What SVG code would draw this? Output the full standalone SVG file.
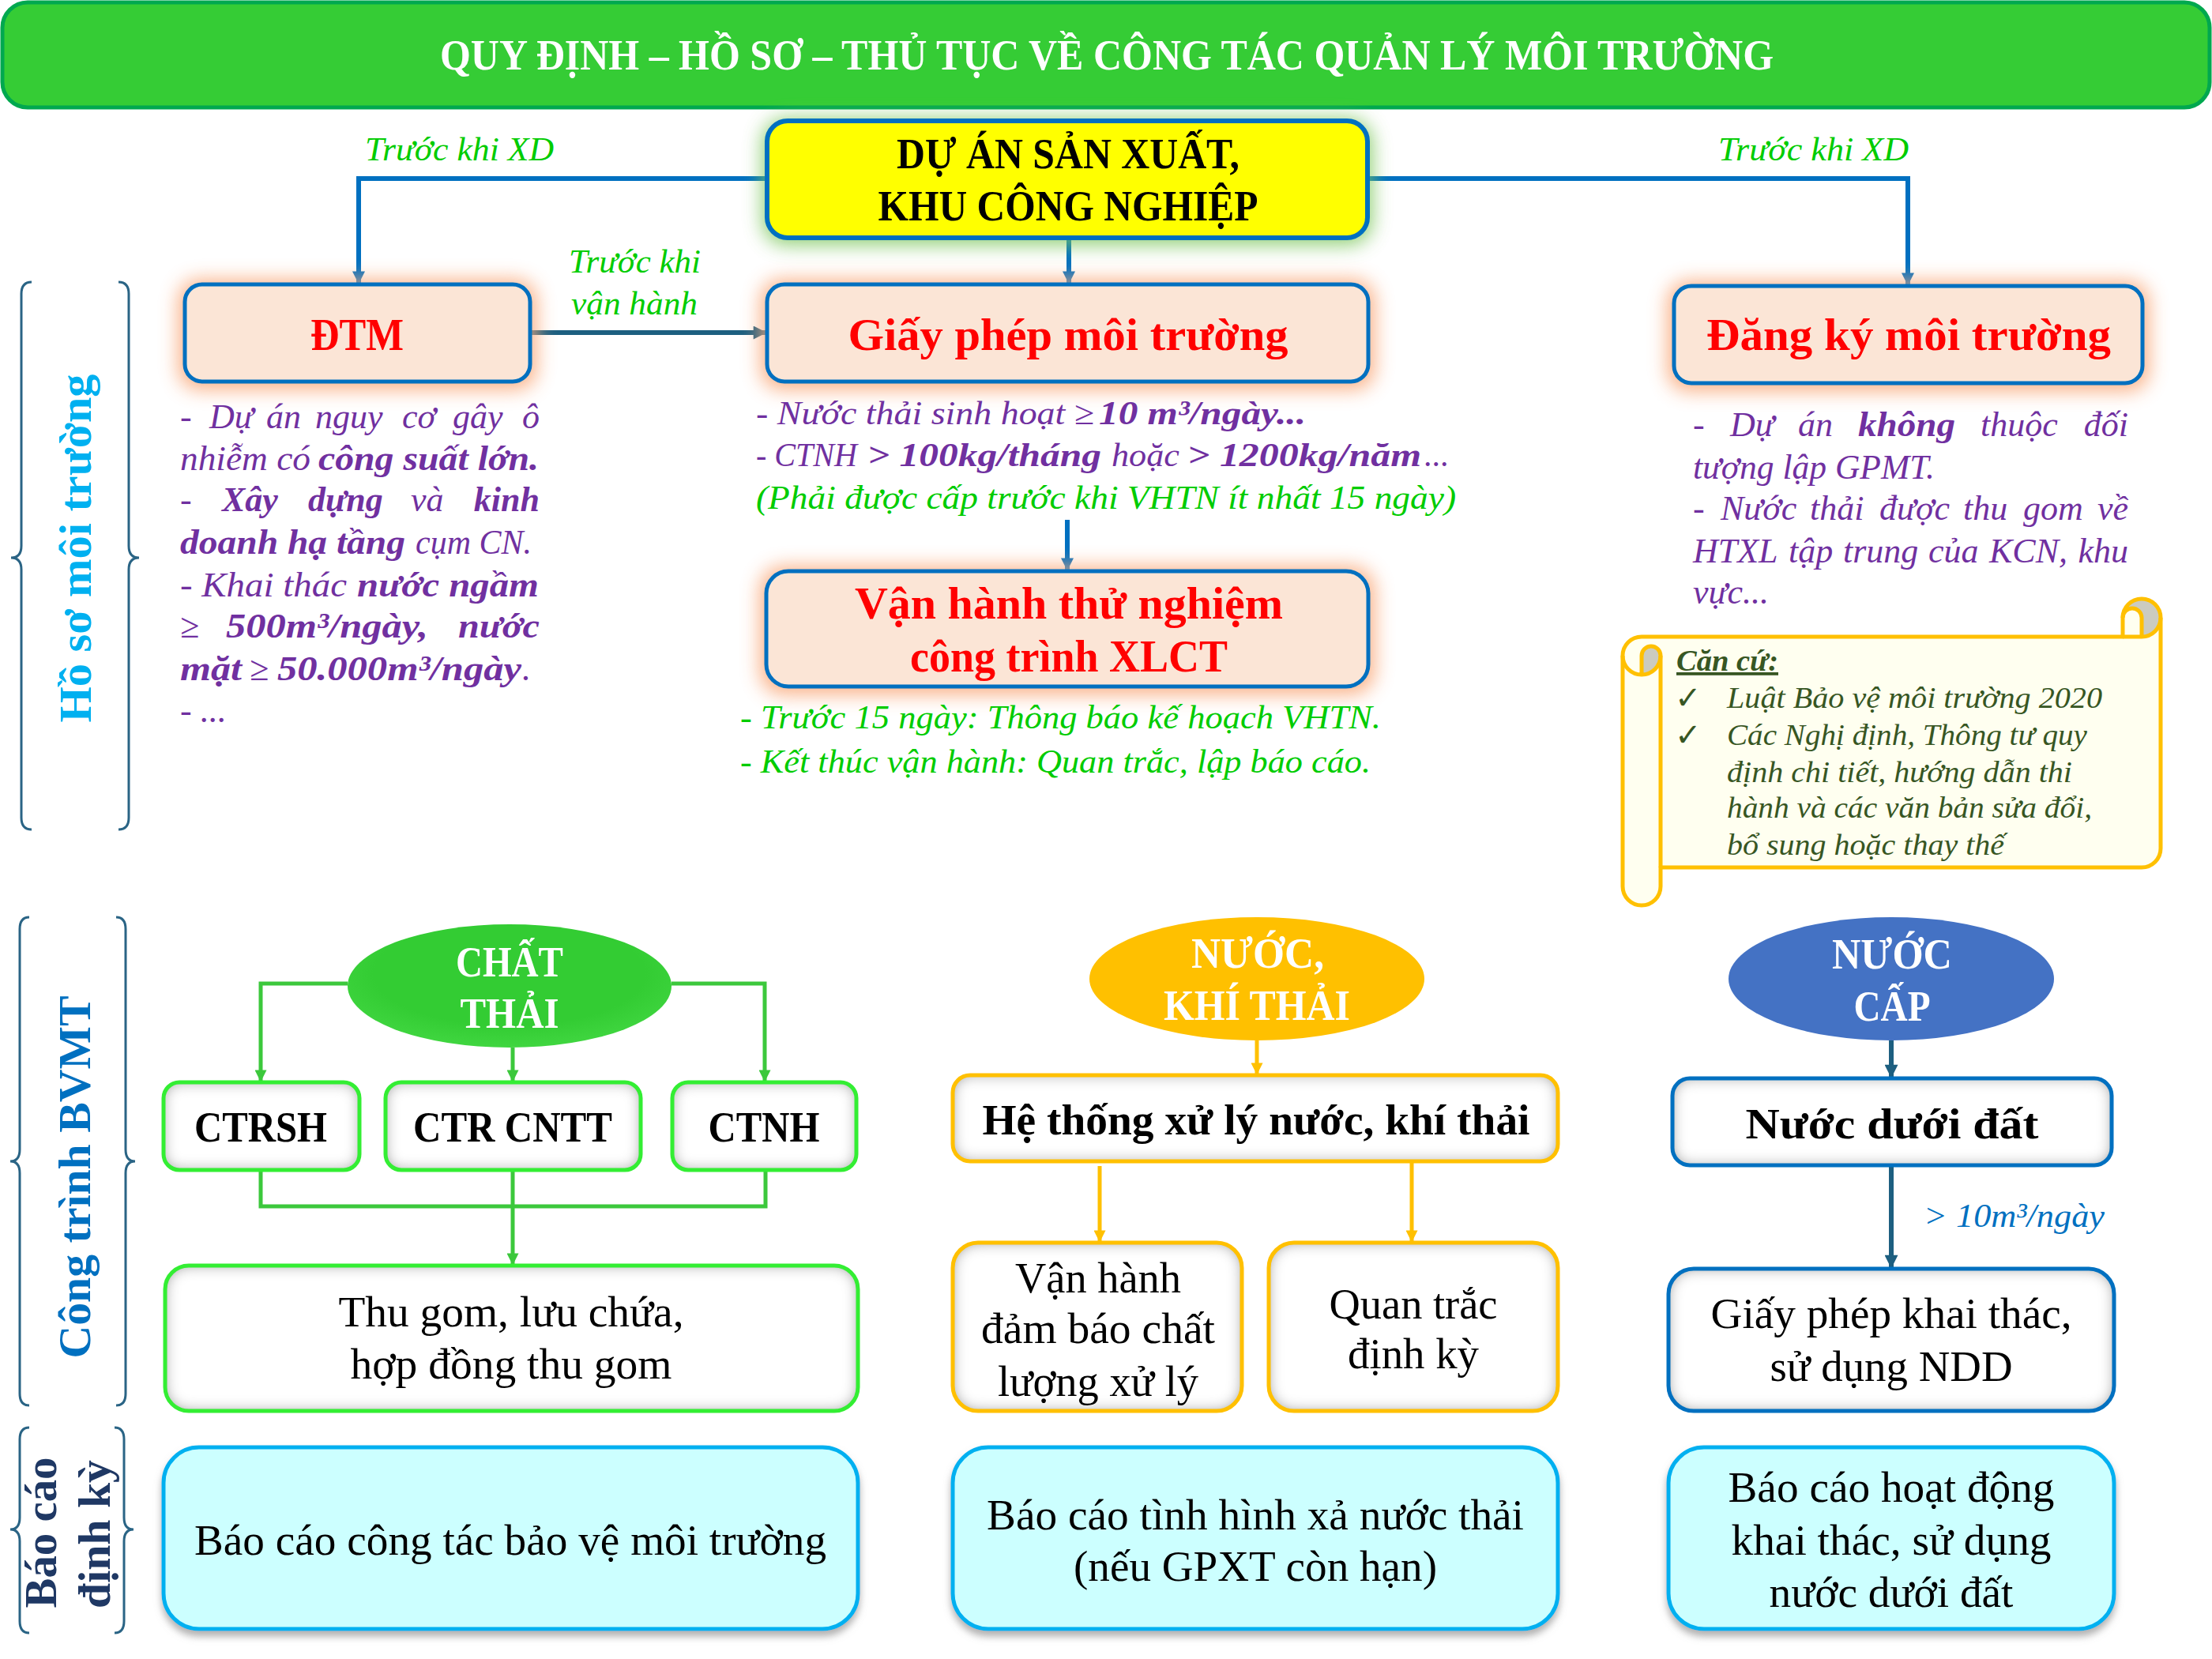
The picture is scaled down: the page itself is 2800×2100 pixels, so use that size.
<svg xmlns="http://www.w3.org/2000/svg" width="2800" height="2100" viewBox="0 0 2800 2100">
<defs>
<style>
.sf{font-family:'Liberation Serif','Times New Roman',serif}
.ttl{font-family:'Liberation Serif',serif;font-weight:bold;font-size:54px;fill:#fff}
.blk{font-family:'Liberation Serif',serif;font-weight:bold;font-size:54px;fill:#000}
.red{font-family:'Liberation Serif',serif;font-weight:bold;font-size:56px;fill:#FF0000}
.gl{font-family:'Liberation Serif',serif;font-style:italic;font-size:42px;fill:#00CC00}
.pu{font-family:'Liberation Serif',serif;font-style:italic;font-size:44px;fill:#7030A0}
.pu2{font-family:'Liberation Serif',serif;font-style:italic;font-size:42px;fill:#7030A0}
.gr2{font-family:'Liberation Serif',serif;font-style:italic;font-size:42px;fill:#00CC00}
.b{font-weight:bold}
.sc{font-family:'Liberation Serif',serif;font-style:italic;font-size:38px;fill:#375623}
.chk{font-family:'DejaVu Sans',sans-serif;font-size:40px;font-weight:bold;fill:#375623}
.el{font-family:'Liberation Serif',serif;font-weight:bold;font-size:54px;fill:#fff}
.reg{font-family:'Liberation Serif',serif;font-size:54px;fill:#000}
.rot{font-family:'Liberation Serif',serif;font-weight:bold;font-size:56px}
.brace{fill:none;stroke:#2A6485;stroke-width:3}
.peach{fill:#FBE5D6;stroke:#0070C0;stroke-width:5}
.wbox{fill:#fff}
.cyan{fill:#CCFFFF;stroke:#00B0F0;stroke-width:5}
.cb{fill:none;stroke-width:5}
.lnB{fill:none;stroke:#0070C0;stroke-width:6}
.lnT{fill:none;stroke:#1D5F80;stroke-width:6}
.lnG{fill:none;stroke:#3CC83C;stroke-width:5}
.lnO{fill:none;stroke:#FFC000;stroke-width:5}
</style>
<marker id="aB" viewBox="0 0 10 10" refX="9" refY="5" markerUnits="userSpaceOnUse" markerWidth="18" markerHeight="16" orient="auto"><path d="M0,0 L10,5 L0,10 z" fill="#0070C0"/></marker>
<marker id="aT" viewBox="0 0 10 10" refX="9" refY="5" markerUnits="userSpaceOnUse" markerWidth="18" markerHeight="17" orient="auto"><path d="M0,0 L10,5 L0,10 z" fill="#1D5F80"/></marker>
<marker id="aG" viewBox="0 0 10 10" refX="9" refY="5" markerUnits="userSpaceOnUse" markerWidth="16" markerHeight="15" orient="auto"><path d="M0,0 L10,5 L0,10 z" fill="#3CC83C"/></marker>
<marker id="aO" viewBox="0 0 10 10" refX="9" refY="5" markerUnits="userSpaceOnUse" markerWidth="16" markerHeight="15" orient="auto"><path d="M0,0 L10,5 L0,10 z" fill="#FFC000"/></marker>
<filter id="blur" x="-20%" y="-40%" width="140%" height="180%"><feGaussianBlur stdDeviation="12"/></filter>
<filter id="inset" x="-5%" y="-10%" width="110%" height="120%">
<feFlood flood-color="#808080" result="f"/>
<feComposite in="f" in2="SourceAlpha" operator="out" result="o"/>
<feGaussianBlur in="o" stdDeviation="9" result="bl"/>
<feComposite in="bl" in2="SourceAlpha" operator="in" result="s"/>
<feMerge><feMergeNode in="SourceGraphic"/><feMergeNode in="s"/></feMerge>
</filter>
<filter id="drop" x="-5%" y="-10%" width="110%" height="125%"><feDropShadow dx="0" dy="7" stdDeviation="5" flood-color="#7f7f7f" flood-opacity="0.6"/></filter>
<radialGradient id="gG" cx="50%" cy="40%" r="60%"><stop offset="0.7" stop-color="#33CC33"/><stop offset="1" stop-color="#40D640"/></radialGradient>
</defs>

<rect width="2800" height="2100" fill="#fff"/>

<g id="title">
<rect x="3" y="3" width="2794" height="133" rx="32" fill="#35CC35" stroke="#00A84F" stroke-width="5"/>
<text class="ttl" x="1401" y="88" text-anchor="middle" textLength="1688" lengthAdjust="spacingAndGlyphs">QUY ĐỊNH – HỒ SƠ – THỦ TỤC VỀ CÔNG TÁC QUẢN LÝ MÔI TRƯỜNG</text>
</g>

<g id="side-labels">
<path class="brace" d="M40 357 Q27 357 27 372 L27 691 Q27 706 14 706 Q27 706 27 721 L27 1035 Q27 1050 40 1050"/>
<path class="brace" d="M150 357 Q163 357 163 372 L163 691 Q163 706 176 706 Q163 706 163 721 L163 1035 Q163 1050 150 1050"/>
<text class="rot" fill="#00B0F0" transform="translate(115,694) rotate(-90)" text-anchor="middle" textLength="441" lengthAdjust="spacingAndGlyphs">Hồ sơ môi trường</text>
<path class="brace" d="M37 1161 Q25 1161 25 1176 L25 1455 Q25 1470 13 1470 Q25 1470 25 1485 L25 1764 Q25 1779 37 1779"/>
<path class="brace" d="M147 1161 Q159 1161 159 1176 L159 1455 Q159 1470 171 1470 Q159 1470 159 1485 L159 1764 Q159 1779 147 1779"/>
<text class="rot" fill="#0070C0" transform="translate(114,1490) rotate(-90)" text-anchor="middle" textLength="459" lengthAdjust="spacingAndGlyphs">Công trình BVMT</text>
<path class="brace" d="M37 1807 Q25 1807 25 1822 L25 1921 Q25 1936 13 1936 Q25 1936 25 1951 L25 2052 Q25 2067 37 2067"/>
<path class="brace" d="M145 1807 Q157 1807 157 1822 L157 1921 Q157 1936 169 1936 Q157 1936 157 1951 L157 2052 Q157 2067 145 2067"/>
<text class="rot" fill="#1F3864" transform="translate(71,1940) rotate(-90)" text-anchor="middle" textLength="191" lengthAdjust="spacingAndGlyphs">Báo cáo</text>
<text class="rot" fill="#1F3864" transform="translate(139,1942) rotate(-90)" text-anchor="middle" textLength="188" lengthAdjust="spacingAndGlyphs">định kỳ</text>
</g>

<g id="connectors">
<path class="lnB" d="M971 226 L454 226 L454 358" marker-end="url(#aB)"/>
<path class="lnB" d="M1731 226 L2415 226 L2415 360" marker-end="url(#aB)"/>
<path class="lnB" d="M1353 301 L1353 358" marker-end="url(#aB)"/>
<path class="lnT" d="M671 421 L969 421" marker-end="url(#aT)"/>
<path class="lnB" d="M1351 658 L1351 721" marker-end="url(#aB)"/>
<path class="lnG" d="M440 1245 L330 1245 L330 1368" marker-end="url(#aG)"/>
<path class="lnG" d="M850 1245 L968 1245 L968 1368" marker-end="url(#aG)"/>
<path class="lnG" d="M649 1326 L649 1368" marker-end="url(#aG)"/>
<path class="lnG" d="M330 1481 L330 1527 L969 1527 L969 1481"/>
<path class="lnG" d="M649 1481 L649 1600" marker-end="url(#aG)"/>
<path class="lnO" d="M1591 1317 L1591 1359" marker-end="url(#aO)"/>
<path class="lnO" d="M1392 1476 L1392 1571" marker-end="url(#aO)"/>
<path class="lnO" d="M1787 1470 L1787 1571" marker-end="url(#aO)"/>
<path class="lnT" d="M2394 1317 L2394 1363" marker-end="url(#aT)"/>
<path class="lnT" d="M2394 1475 L2394 1604" marker-end="url(#aT)"/>
<text class="gl" x="462" y="203" textLength="239" lengthAdjust="spacingAndGlyphs">Trước khi XD</text>
<text class="gl" x="2175" y="203" textLength="241" lengthAdjust="spacingAndGlyphs">Trước khi XD</text>
<text class="gl" x="720" y="345" textLength="167" lengthAdjust="spacingAndGlyphs">Trước khi</text>
<text class="gl" x="723" y="398" textLength="160" lengthAdjust="spacingAndGlyphs">vận hành</text>
<text class="sf" x="2435" y="1553" font-style="italic" font-size="42" fill="#0070C0" textLength="229" lengthAdjust="spacingAndGlyphs">&gt; 10m³/ngày</text>
</g>

<g id="du-an">
<rect x="965" y="150" width="772" height="160" rx="30" fill="#7CC65B" opacity="0.85" filter="url(#blur)"/>
<rect x="971" y="153" width="760" height="148" rx="26" fill="#FFFF00" stroke="#0070C0" stroke-width="6"/>
<text class="blk" x="1352" y="213" text-anchor="middle" font-size="56" textLength="434" lengthAdjust="spacingAndGlyphs">DỰ ÁN SẢN XUẤT,</text>
<text class="blk" x="1352" y="279" text-anchor="middle" font-size="56" textLength="481" lengthAdjust="spacingAndGlyphs">KHU CÔNG NGHIỆP</text>
</g>

<g id="dtm">
<rect x="226" y="354" width="453" height="139" rx="26" fill="#F9A97A" opacity="0.9" filter="url(#blur)"/>
<rect class="peach" x="234" y="360" width="437" height="123" rx="22"/>
<text class="red" x="452" y="443" text-anchor="middle" textLength="118" lengthAdjust="spacingAndGlyphs">ĐTM</text>
</g>

<g id="giay-phep">
<rect x="963" y="354" width="777" height="139" rx="26" fill="#F9A97A" opacity="0.9" filter="url(#blur)"/>
<rect class="peach" x="971" y="360" width="761" height="123" rx="22"/>
<text class="red" x="1352" y="443" text-anchor="middle" textLength="557" lengthAdjust="spacingAndGlyphs">Giấy phép môi trường</text>
</g>

<g id="dang-ky">
<rect x="2111" y="356" width="609" height="139" rx="26" fill="#F9A97A" opacity="0.9" filter="url(#blur)"/>
<rect class="peach" x="2119" y="362" width="593" height="123" rx="22"/>
<text class="red" x="2416" y="443" text-anchor="middle" textLength="512" lengthAdjust="spacingAndGlyphs">Đăng ký môi trường</text>
</g>

<g id="van-hanh-tn">
<rect x="962" y="717" width="778" height="162" rx="30" fill="#F9A97A" opacity="0.9" filter="url(#blur)"/>
<rect class="peach" x="970" y="723" width="762" height="146" rx="28"/>
<text class="red" x="1353" y="783" text-anchor="middle" textLength="542" lengthAdjust="spacingAndGlyphs">Vận hành thử nghiệm</text>
<text class="red" x="1353" y="850" text-anchor="middle" textLength="402" lengthAdjust="spacingAndGlyphs">công trình XLCT</text>
</g>

<g id="dtm-text">
<text class="pu" y="542"><tspan x="228">-</tspan><tspan x="265">Dự</tspan><tspan x="337">án</tspan><tspan x="399">nguy</tspan><tspan x="509">cơ</tspan><tspan x="573">gây</tspan><tspan x="683" text-anchor="end">ô</tspan></text>
<text class="pu" y="595"><tspan x="228" textLength="165" lengthAdjust="spacingAndGlyphs">nhiễm có</tspan><tspan x="403" class="b" textLength="279" lengthAdjust="spacingAndGlyphs">công suất lớn.</tspan></text>
<text class="pu" y="647"><tspan x="228">-</tspan><tspan x="281" class="b">Xây</tspan><tspan x="390" class="b">dựng</tspan><tspan x="520">và</tspan><tspan x="683" class="b" text-anchor="end">kinh</tspan></text>
<text class="pu" y="701"><tspan x="228" class="b" textLength="285" lengthAdjust="spacingAndGlyphs">doanh hạ tầng</tspan><tspan x="526" textLength="147" lengthAdjust="spacingAndGlyphs">cụm CN.</tspan></text>
<text class="pu" y="755"><tspan x="228" textLength="211" lengthAdjust="spacingAndGlyphs">- Khai thác</tspan><tspan x="452" class="b" textLength="230" lengthAdjust="spacingAndGlyphs">nước ngầm</tspan></text>
<text class="pu" y="807"><tspan x="228">≥</tspan><tspan x="286" class="b" textLength="256" lengthAdjust="spacingAndGlyphs">500m³/ngày,</tspan><tspan x="580" class="b" textLength="103" lengthAdjust="spacingAndGlyphs">nước</tspan></text>
<text class="pu" y="861"><tspan x="228" class="b" textLength="78" lengthAdjust="spacingAndGlyphs">mặt</tspan><tspan x="316">≥</tspan><tspan x="351" class="b" textLength="309" lengthAdjust="spacingAndGlyphs">50.000m³/ngày</tspan><tspan x="661">.</tspan></text>
<text class="pu" y="914" x="228">- ...</text>
</g>

<g id="gp-text">
<text class="pu2" y="537"><tspan x="957" textLength="428" lengthAdjust="spacingAndGlyphs">- Nước thải sinh hoạt ≥</tspan><tspan x="1391" class="b" textLength="262" lengthAdjust="spacingAndGlyphs">10 m³/ngày...</tspan></text>
<text class="pu2" y="590"><tspan x="957" textLength="128" lengthAdjust="spacingAndGlyphs">- CTNH</tspan><tspan x="1098" class="b" textLength="296" lengthAdjust="spacingAndGlyphs">&gt; 100kg/tháng</tspan><tspan x="1407" textLength="86" lengthAdjust="spacingAndGlyphs">hoặc</tspan><tspan x="1503" class="b" textLength="296" lengthAdjust="spacingAndGlyphs">&gt; 1200kg/năm</tspan><tspan x="1803">...</tspan></text>
<text class="gr2" x="957" y="644" textLength="886" lengthAdjust="spacingAndGlyphs">(Phải được cấp trước khi VHTN ít nhất 15 ngày)</text>
</g>

<g id="vh-text">
<text class="gr2" x="937" y="922" textLength="811" lengthAdjust="spacingAndGlyphs">- Trước 15 ngày: Thông báo kế hoạch VHTN.</text>
<text class="gr2" x="937" y="978" textLength="798" lengthAdjust="spacingAndGlyphs">- Kết thúc vận hành: Quan trắc, lập báo cáo.</text>
</g>

<g id="dk-text">
<text class="pu" y="552"><tspan x="2143">-</tspan><tspan x="2190">Dự</tspan><tspan x="2276">án</tspan><tspan x="2352" class="b" textLength="123" lengthAdjust="spacingAndGlyphs">không</tspan><tspan x="2507">thuộc</tspan><tspan x="2694" text-anchor="end">đối</tspan></text>
<text class="pu" x="2143" y="606" textLength="306" lengthAdjust="spacingAndGlyphs">tượng lập GPMT.</text>
<text class="pu" y="658"><tspan x="2143">-</tspan><tspan x="2178">Nước</tspan><tspan x="2291">thải</tspan><tspan x="2379">được</tspan><tspan x="2485">thu</tspan><tspan x="2561">gom</tspan><tspan x="2694" text-anchor="end">về</tspan></text>
<text class="pu" y="712"><tspan x="2143">HTXL</tspan><tspan x="2264">tập</tspan><tspan x="2333">trung</tspan><tspan x="2441">của</tspan><tspan x="2518">KCN,</tspan><tspan x="2694" text-anchor="end">khu</tspan></text>
<text class="pu" x="2143" y="764">vực...</text>
</g>

<g id="can-cu">
<path d="M2735 782 A24 24 0 0 1 2711 806 L2711 782 A12 12 0 0 1 2687 782 L2687 806 L2078 806 A24 24 0 0 0 2054 830 L2054 1122 A24 24 0 0 0 2102 1122 L2102 1098 L2711 1098 A24 24 0 0 0 2735 1074 Z" fill="#FFFFF0"/>
<circle cx="2711" cy="782" r="23" fill="#CBCBC0"/>
<path d="M2687 806 L2687 782 A12 12 0 0 1 2711 782 L2711 806 Z" fill="#FFFFF0"/>
<path d="M2078 854 L2078 830 A12 12 0 0 1 2102 830 A24 24 0 0 1 2078 854 Z" fill="#CBCBC0"/>
<g fill="none" stroke="#FFC000" stroke-width="5" stroke-linejoin="round">
<path d="M2054 830 A24 24 0 0 1 2078 806 L2687 806 L2687 782 A24 24 0 0 1 2735 782 L2735 1074 A24 24 0 0 1 2711 1098 L2102 1098 L2102 1122 A24 24 0 0 1 2054 1122 Z"/>
<path d="M2687 806 L2711 806 A24 24 0 0 0 2735 782"/>
<path d="M2711 806 L2711 782 A12 12 0 0 0 2687 782"/>
<path d="M2078 854 L2078 830 A12 12 0 0 1 2102 830 A24 24 0 0 1 2054 830"/>
<path d="M2102 830 L2102 1098"/>
</g>
<text class="sc b" x="2122" y="849" text-decoration="underline" textLength="129" lengthAdjust="spacingAndGlyphs">Căn cứ:</text>
<text class="chk" x="2120" y="897">✓</text>
<text class="chk" x="2120" y="944">✓</text>
<text class="sc" x="2186" y="896" textLength="475" lengthAdjust="spacingAndGlyphs">Luật Bảo vệ môi trường 2020</text>
<text class="sc" x="2186" y="943" textLength="456" lengthAdjust="spacingAndGlyphs">Các Nghị định, Thông tư quy</text>
<text class="sc" x="2186" y="990" textLength="437" lengthAdjust="spacingAndGlyphs">định chi tiết, hướng dẫn thi</text>
<text class="sc" x="2186" y="1035" textLength="462" lengthAdjust="spacingAndGlyphs">hành và các văn bản sửa đổi,</text>
<text class="sc" x="2186" y="1082" textLength="351" lengthAdjust="spacingAndGlyphs">bổ sung hoặc thay thế</text>
</g>

<g id="chat-thai">
<ellipse cx="645" cy="1248" rx="205" ry="78" fill="url(#gG)"/>
<text class="el" x="645" y="1236" text-anchor="middle" textLength="136" lengthAdjust="spacingAndGlyphs">CHẤT</text>
<text class="el" x="645" y="1301" text-anchor="middle" textLength="125" lengthAdjust="spacingAndGlyphs">THẢI</text>
</g>

<g id="ctrsh">
<rect class="wbox" x="207" y="1370" width="248" height="111" rx="20" filter="url(#inset)"/>
<rect class="cb" x="207" y="1370" width="248" height="111" rx="20" stroke="#33EE33"/>
<text class="blk" x="330" y="1445" text-anchor="middle" textLength="168" lengthAdjust="spacingAndGlyphs">CTRSH</text>
</g>
<g id="ctr-cntt">
<rect class="wbox" x="488" y="1370" width="323" height="111" rx="20" filter="url(#inset)"/>
<rect class="cb" x="488" y="1370" width="323" height="111" rx="20" stroke="#33EE33"/>
<text class="blk" x="649" y="1445" text-anchor="middle" textLength="252" lengthAdjust="spacingAndGlyphs">CTR CNTT</text>
</g>
<g id="ctnh">
<rect class="wbox" x="851" y="1370" width="233" height="111" rx="20" filter="url(#inset)"/>
<rect class="cb" x="851" y="1370" width="233" height="111" rx="20" stroke="#33EE33"/>
<text class="blk" x="967" y="1445" text-anchor="middle" textLength="141" lengthAdjust="spacingAndGlyphs">CTNH</text>
</g>
<g id="thu-gom">
<rect class="wbox" x="209" y="1602" width="877" height="184" rx="30" filter="url(#inset)"/>
<rect class="cb" x="209" y="1602" width="877" height="184" rx="30" stroke="#33EE33"/>
<text class="reg" x="647" y="1679" text-anchor="middle" textLength="437" lengthAdjust="spacingAndGlyphs">Thu gom, lưu chứa,</text>
<text class="reg" x="647" y="1745" text-anchor="middle" textLength="407" lengthAdjust="spacingAndGlyphs">hợp đồng thu gom</text>
</g>
<g id="bc-bvmt">
<rect class="cyan" x="207" y="1832" width="879" height="230" rx="45" filter="url(#drop)"/>
<text class="reg" x="646" y="1968" text-anchor="middle" textLength="800" lengthAdjust="spacingAndGlyphs">Báo cáo công tác bảo vệ môi trường</text>
</g>

<g id="nuoc-khi-thai">
<ellipse cx="1591" cy="1239" rx="212" ry="78" fill="#FFC000"/>
<text class="el" x="1592" y="1225" text-anchor="middle" textLength="168" lengthAdjust="spacingAndGlyphs">NƯỚC,</text>
<text class="el" x="1591" y="1291" text-anchor="middle" textLength="236" lengthAdjust="spacingAndGlyphs">KHÍ THẢI</text>
</g>
<g id="he-thong">
<rect class="wbox" x="1206" y="1361" width="766" height="109" rx="22" filter="url(#inset)"/>
<rect class="cb" x="1206" y="1361" width="766" height="109" rx="22" stroke="#FFC000" stroke-width="6"/>
<text class="blk" x="1590" y="1436" text-anchor="middle" textLength="693" lengthAdjust="spacingAndGlyphs">Hệ thống xử lý nước, khí thải</text>
</g>
<g id="van-hanh-dam-bao">
<rect class="wbox" x="1206" y="1573" width="366" height="213" rx="32" filter="url(#inset)"/>
<rect class="cb" x="1206" y="1573" width="366" height="213" rx="32" stroke="#FFC000" stroke-width="6"/>
<text class="reg" x="1390" y="1636" text-anchor="middle" textLength="210" lengthAdjust="spacingAndGlyphs">Vận hành</text>
<text class="reg" x="1390" y="1700" text-anchor="middle" textLength="296" lengthAdjust="spacingAndGlyphs">đảm báo chất</text>
<text class="reg" x="1390" y="1767" text-anchor="middle" textLength="254" lengthAdjust="spacingAndGlyphs">lượng xử lý</text>
</g>
<g id="quan-trac">
<rect class="wbox" x="1606" y="1573" width="366" height="213" rx="32" filter="url(#inset)"/>
<rect class="cb" x="1606" y="1573" width="366" height="213" rx="32" stroke="#FFC000" stroke-width="6"/>
<text class="reg" x="1789" y="1669" text-anchor="middle" textLength="213" lengthAdjust="spacingAndGlyphs">Quan trắc</text>
<text class="reg" x="1789" y="1732" text-anchor="middle" textLength="166" lengthAdjust="spacingAndGlyphs">định kỳ</text>
</g>
<g id="bc-xa-thai">
<rect class="cyan" x="1206" y="1832" width="766" height="230" rx="45" filter="url(#drop)"/>
<text class="reg" x="1589" y="1936" text-anchor="middle" textLength="680" lengthAdjust="spacingAndGlyphs">Báo cáo tình hình xả nước thải</text>
<text class="reg" x="1589" y="2001" text-anchor="middle" textLength="460" lengthAdjust="spacingAndGlyphs">(nếu GPXT còn hạn)</text>
</g>

<g id="nuoc-cap">
<ellipse cx="2394" cy="1239" rx="206" ry="78" fill="#4472C4"/>
<text class="el" x="2395" y="1226" text-anchor="middle" textLength="152" lengthAdjust="spacingAndGlyphs">NƯỚC</text>
<text class="el" x="2395" y="1292" text-anchor="middle" textLength="97" lengthAdjust="spacingAndGlyphs">CẤP</text>
</g>
<g id="nuoc-duoi-dat">
<rect class="wbox" x="2117" y="1365" width="556" height="110" rx="22" filter="url(#inset)"/>
<rect class="cb" x="2117" y="1365" width="556" height="110" rx="22" stroke="#0070C0"/>
<text class="blk" x="2395" y="1441" text-anchor="middle" textLength="371" lengthAdjust="spacingAndGlyphs">Nước dưới đất</text>
</g>
<g id="gp-khai-thac">
<rect class="wbox" x="2112" y="1606" width="564" height="180" rx="32" filter="url(#inset)"/>
<rect class="cb" x="2112" y="1606" width="564" height="180" rx="32" stroke="#0070C0"/>
<text class="reg" x="2394" y="1681" text-anchor="middle" textLength="457" lengthAdjust="spacingAndGlyphs">Giấy phép khai thác,</text>
<text class="reg" x="2394" y="1748" text-anchor="middle" textLength="307" lengthAdjust="spacingAndGlyphs">sử dụng NDD</text>
</g>
<g id="bc-ndd">
<rect class="cyan" x="2112" y="1832" width="564" height="230" rx="45" filter="url(#drop)"/>
<text class="reg" x="2394" y="1901" text-anchor="middle" textLength="413" lengthAdjust="spacingAndGlyphs">Báo cáo hoạt động</text>
<text class="reg" x="2394" y="1968" text-anchor="middle" textLength="405" lengthAdjust="spacingAndGlyphs">khai thác, sử dụng</text>
<text class="reg" x="2394" y="2034" text-anchor="middle" textLength="309" lengthAdjust="spacingAndGlyphs">nước dưới đất</text>
</g>
</svg>
